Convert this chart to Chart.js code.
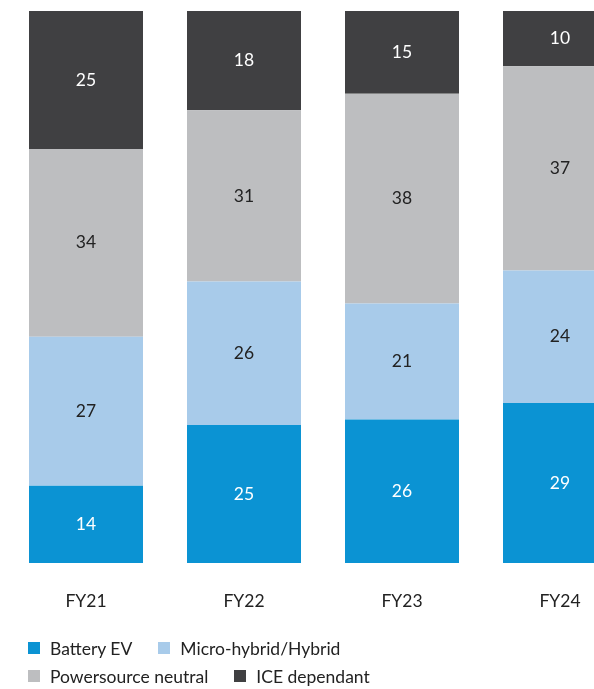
<!DOCTYPE html>
<html>
<head>
<meta charset="utf-8">
<script src="https://cdn.jsdelivr.net/npm/chart.js@4"></script>
<style>
  html, body { margin: 0; padding: 0; background: #fff; }
  body { width: 594px; height: 689px; overflow: hidden; position: relative; font-family: Lato, sans-serif; }
  #chart { position: absolute; left: 0; top: 0; }
  #legend { position: absolute; left: 28px; top: 634px; width: 400px; display: flex; flex-wrap: wrap; column-gap: 26px; }
  #legend .item { display: flex; align-items: center; height: 28px; font-size: 17.5px; color: #222; }
  #legend .box { width: 12px; height: 12px; margin-right: 10px; }
</style>
</head>
<body>
<canvas id="chart" width="646" height="651"></canvas>
<div id="legend"></div>
<script>
const categories = ['FY21', 'FY22', 'FY23', 'FY24'];
const batteryEV = [14, 25, 26, 29];
const microHybrid = [27, 26, 21, 24];
const powersourceNeutral = [34, 31, 38, 37];
const iceDependant = [25, 18, 15, 10];

const seriesNames = ['Battery EV', 'Micro-hybrid/Hybrid', 'Powersource neutral', 'ICE dependant'];
const seriesColors = ['#0b93d3', '#a8cbea', '#bdbec0', '#404042'];
const valueColors = ['#ffffff', '#222222', '#222222', '#ffffff'];

const seriesValues = [batteryEV, microHybrid, powersourceNeutral, iceDependant];

// writes the number in the middle of every segment
const valueLabels = {
    id: 'valueLabels',
    afterDatasetsDraw(chart) {
        const ctx = chart.ctx;
        ctx.save();
        ctx.font = '17.5px Lato, sans-serif';
        ctx.textAlign = 'center';
        ctx.textBaseline = 'middle';
        chart.data.datasets.forEach((ds, i) => {
            const meta = chart.getDatasetMeta(i);
            meta.data.forEach((bar, j) => {
                const { x, y, base } = bar.getProps(['x', 'y', 'base'], true);
                ctx.fillStyle = valueColors[i];
                ctx.fillText(ds.data[j], x, (y + base) / 2);
            });
        });
        ctx.restore();
    },
};

const chart = new Chart(document.getElementById('chart').getContext('2d'), {
    type: 'bar',
    data: {
        labels: categories,
        datasets: seriesValues.map((values, i) => ({
            label: seriesNames[i],
            data: values,
            backgroundColor: seriesColors[i],
            borderWidth: 0,
            categoryPercentage: 114 / 158,
            barPercentage: 1,
        })),
    },
    options: {
        responsive: false,
        animation: false,
        layout: {
            padding: { left: 7, right: 7, top: 11, bottom: 11 },
        },
        scales: {
            x: {
                stacked: true,
                grid: { display: false, drawTicks: false },
                border: { display: false },
                ticks: {
                    padding: 28,
                    color: '#222',
                    font: { family: 'Lato, sans-serif', size: 17.5 },
                },
            },
            y: {
                stacked: true,
                display: false,
                min: 0,
                max: 100,
            },
        },
        plugins: {
            legend: { display: false },
            tooltip: { enabled: false },
        },
    },
    plugins: [valueLabels],
});

const legend = document.getElementById('legend');
chart.data.datasets.forEach((ds) => {
    const item = document.createElement('div');
    item.className = 'item';
    const box = document.createElement('span');
    box.className = 'box';
    box.style.background = ds.backgroundColor;
    item.appendChild(box);
    item.appendChild(document.createTextNode(ds.label));
    legend.appendChild(item);
});
</script>
</body>
</html>
